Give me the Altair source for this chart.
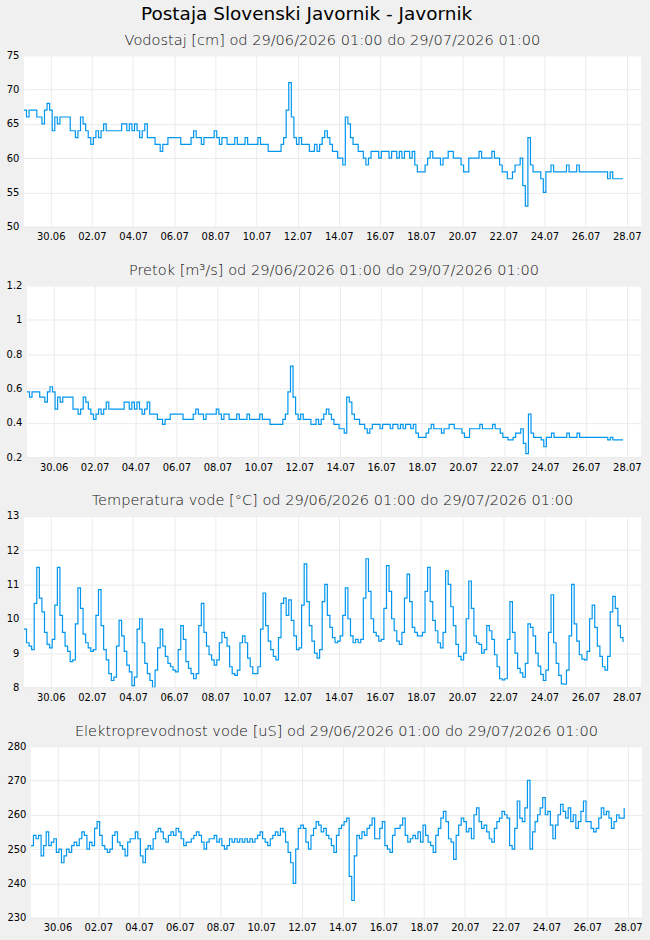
import altair as alt
import pandas as pd

# ---------------- data (3-hourly samples) ----------------
N = 234
times = pd.date_range("2026-06-28 16:40", periods=N, freq="3h").strftime("%Y-%m-%dT%H:%M:%SZ").tolist()

vodostaj = [
    67, 66, 67, 67, 67, 66, 66, 65,
    67, 68, 67, 64, 66, 65, 66, 66,
    66, 66, 64, 64, 63, 64, 66, 65,
    64, 63, 62, 63, 64, 63, 64, 65,
    64, 64, 64, 64, 64, 64, 65, 65,
    64, 65, 64, 65, 64, 63, 64, 65,
    63, 63, 63, 62, 62, 61, 62, 62,
    63, 63, 63, 63, 63, 62, 62, 62,
    62, 63, 64, 63, 63, 62, 63, 63,
    63, 63, 64, 63, 62, 63, 63, 62,
    62, 62, 63, 62, 62, 62, 63, 62,
    62, 62, 62, 63, 62, 62, 62, 61,
    61, 61, 61, 61, 62, 63, 67, 71,
    66, 63, 62, 63, 62, 62, 62, 61,
    61, 62, 61, 62, 63, 64, 63, 62,
    61, 61, 60, 60, 59, 66, 65, 63,
    62, 62, 61, 61, 60, 59, 60, 61,
    61, 61, 60, 61, 61, 61, 60, 61,
    61, 60, 61, 60, 61, 61, 60, 61,
    59, 58, 58, 58, 59, 60, 61, 60,
    60, 60, 59, 60, 60, 61, 61, 60,
    60, 60, 59, 58, 58, 60, 60, 60,
    60, 61, 60, 60, 60, 60, 61, 60,
    60, 59, 58, 58, 57, 57, 58, 59,
    59, 60, 56, 53, 63, 59, 58, 58,
    58, 57, 55, 58, 58, 59, 58, 58,
    58, 58, 58, 59, 58, 58, 58, 59,
    58, 58, 58, 58, 58, 58, 58, 58,
    58, 58, 58, 57, 58, 57, 57, 57,
    57, 57,
]

pretok = [
    0.58, 0.55, 0.58, 0.58, 0.58, 0.55, 0.55, 0.52,
    0.58, 0.61, 0.58, 0.48, 0.55, 0.52, 0.55, 0.55,
    0.55, 0.55, 0.48, 0.48, 0.45, 0.48, 0.55, 0.52,
    0.48, 0.45, 0.42, 0.45, 0.48, 0.45, 0.48, 0.52,
    0.48, 0.48, 0.48, 0.48, 0.48, 0.48, 0.52, 0.52,
    0.48, 0.52, 0.48, 0.52, 0.48, 0.45, 0.48, 0.52,
    0.45, 0.45, 0.45, 0.42, 0.42, 0.39, 0.42, 0.42,
    0.45, 0.45, 0.45, 0.45, 0.45, 0.42, 0.42, 0.42,
    0.42, 0.45, 0.48, 0.45, 0.45, 0.42, 0.45, 0.45,
    0.45, 0.45, 0.48, 0.45, 0.42, 0.45, 0.45, 0.42,
    0.42, 0.42, 0.45, 0.42, 0.42, 0.42, 0.45, 0.42,
    0.42, 0.42, 0.42, 0.45, 0.42, 0.42, 0.42, 0.39,
    0.39, 0.39, 0.39, 0.39, 0.42, 0.45, 0.58, 0.73,
    0.55, 0.45, 0.42, 0.45, 0.42, 0.42, 0.42, 0.39,
    0.39, 0.42, 0.39, 0.42, 0.45, 0.48, 0.45, 0.42,
    0.39, 0.39, 0.365, 0.365, 0.34, 0.55, 0.52, 0.45,
    0.42, 0.42, 0.39, 0.39, 0.365, 0.34, 0.365, 0.39,
    0.39, 0.39, 0.365, 0.39, 0.39, 0.39, 0.365, 0.39,
    0.39, 0.365, 0.39, 0.365, 0.39, 0.39, 0.365, 0.39,
    0.34, 0.315, 0.315, 0.315, 0.34, 0.365, 0.39, 0.365,
    0.365, 0.365, 0.34, 0.365, 0.365, 0.39, 0.39, 0.365,
    0.365, 0.365, 0.34, 0.315, 0.315, 0.365, 0.365, 0.365,
    0.365, 0.39, 0.365, 0.365, 0.365, 0.365, 0.39, 0.365,
    0.365, 0.34, 0.315, 0.315, 0.30, 0.30, 0.315, 0.34,
    0.34, 0.365, 0.28, 0.22, 0.45, 0.34, 0.315, 0.315,
    0.315, 0.30, 0.26, 0.315, 0.315, 0.34, 0.315, 0.315,
    0.315, 0.315, 0.315, 0.34, 0.315, 0.315, 0.315, 0.34,
    0.315, 0.315, 0.315, 0.315, 0.315, 0.315, 0.315, 0.315,
    0.315, 0.315, 0.315, 0.30, 0.315, 0.30, 0.30, 0.30,
    0.30, 0.30,
]

temperatura = [
    9.7, 9.3, 9.2, 9.1, 10.45, 11.5, 10.6, 10.2,
    9.6, 9.25, 9.15, 9.4, 10.4, 11.5, 10.1, 9.6,
    9.2, 9.05, 8.75, 8.8, 9.85, 10.9, 10.3, 9.55,
    9.3, 9.15, 9.05, 9.1, 10.1, 10.85, 9.8, 9.1,
    8.8, 8.4, 8.2, 8.3, 9.2, 9.95, 9.5, 9.05,
    8.65, 8.45, 8.05, 8.3, 9.7, 10.0, 9.3, 8.7,
    8.4, 8.2, 8.0, 8.5, 9.15, 9.7, 9.2, 8.9,
    8.7, 8.6, 8.5, 8.45, 9.1, 9.8, 9.4, 8.75,
    8.55, 8.4, 8.25, 8.4, 9.8, 10.45, 9.6, 9.2,
    8.95, 8.8, 8.65, 8.8, 9.3, 9.6, 9.45, 9.2,
    8.6, 8.4, 8.35, 8.5, 9.3, 9.5, 9.3, 8.85,
    8.6, 8.4, 8.4, 8.6, 9.7, 10.75, 9.8, 9.35,
    9.1, 8.9, 8.8, 9.45, 10.45, 10.6, 10.1, 10.55,
    9.95, 9.5, 9.1, 9.15, 10.4, 11.6, 10.5, 9.8,
    9.35, 9.0, 8.85, 9.1, 10.5, 11.0, 10.1, 9.75,
    9.45, 9.3, 9.35, 9.5, 10.1, 10.9, 10.0, 9.5,
    9.3, 9.4, 9.3, 9.4, 10.6, 11.75, 10.8, 10.0,
    9.6, 9.5, 9.35, 9.4, 10.3, 11.55, 10.8, 10.0,
    9.65, 9.35, 9.25, 9.6, 10.6, 11.3, 10.5, 9.75,
    9.6, 9.5, 9.5, 9.6, 10.8, 11.5, 10.5, 9.95,
    9.65, 9.3, 9.15, 9.6, 11.4, 11.0, 10.35, 9.8,
    9.25, 8.9, 8.8, 9.0, 10.0, 11.1, 10.3, 9.5,
    9.3, 9.25, 9.0, 9.1, 9.8, 9.65, 9.4, 8.95,
    8.6, 8.25, 8.22, 8.25, 9.4, 10.5, 9.6, 9.0,
    8.55, 8.42, 8.3, 8.7, 9.85, 9.75, 9.5, 9.0,
    8.62, 8.38, 8.2, 8.5, 9.6, 10.7, 9.3, 8.7,
    8.35, 8.1, 8.09, 8.5, 9.5, 11.0, 9.85, 9.35,
    8.95, 8.82, 8.8, 9.05, 10.0, 10.4, 9.75, 9.2,
    8.9, 8.6, 8.5, 8.9, 10.2, 10.65, 10.3, 9.8,
    9.45, 9.32,
]

prevodnost = [
    251, 254, 253, 254, 248, 251, 255, 251,
    252, 253, 249, 250, 246, 248, 250, 249,
    251, 252, 251, 253, 255, 254, 250, 252,
    251, 256, 258, 254, 251, 250, 249, 250,
    254, 255, 252, 251, 250, 248, 252, 253,
    253, 255, 253, 248, 246, 250, 251, 250,
    253, 255, 256, 255, 253, 252, 254, 255,
    254, 256, 255, 253, 251, 252, 252, 253,
    254, 255, 254, 252, 250, 252, 253, 253,
    254, 252, 253, 251, 250, 251, 253, 252,
    253, 252, 253, 252, 253, 252, 253, 252,
    253, 254, 255, 253, 252, 251, 253, 254,
    255, 254, 256, 255, 252, 249, 246, 240,
    250, 256, 257, 256, 252, 250, 254, 256,
    258, 257, 255, 256, 254, 253, 251, 249,
    254, 256, 257, 258, 259, 242, 235, 248,
    254, 253, 255, 254, 256, 257, 259, 253,
    253, 256, 258, 251, 250, 249, 254, 256,
    256, 257, 259, 254, 252, 253, 254, 253,
    255, 252, 257, 254, 252, 251, 249, 254,
    256, 259, 261, 258, 253, 252, 247, 254,
    257, 259, 258, 255, 256, 253, 260, 262,
    258, 256, 257, 255, 253, 252, 256, 258,
    259, 261, 260, 259, 251, 250, 256, 264,
    259, 258, 262, 270, 250, 255, 258, 260,
    262, 265, 260, 261, 257, 253, 257, 260,
    263, 261, 259, 262, 258, 260, 256, 258,
    261, 264, 258, 258, 256, 255, 256, 259,
    262, 260, 261, 259, 256, 258, 260, 259,
    259, 262,
]

tick_dates = [(6, 30), (7, 2), (7, 4), (7, 6), (7, 8), (7, 10), (7, 12), (7, 14),
              (7, 16), (7, 18), (7, 20), (7, 22), (7, 24), (7, 26), (7, 28)]

titles = [
    "Vodostaj [cm] od 29/06/2026 01:00 do 29/07/2026 01:00",
    "Pretok [m\u00b3/s] od 29/06/2026 01:00 do 29/07/2026 01:00",
    "Temperatura vode [\u00b0C] od 29/06/2026 01:00 do 29/07/2026 01:00",
    "Elektroprevodnost vode [uS] od 29/06/2026 01:00 do 29/07/2026 01:00",
]
y_ticks = [
    [50, 55, 60, 65, 70, 75],
    [0.2, 0.4, 0.6, 0.8, 1.0, 1.2],
    [8, 9, 10, 11, 12, 13],
    [230, 240, 250, 260, 270, 280],
]
y_formats = ["d", "~g", "d", "d"]
series = [vodostaj, pretok, temperatura, prevodnost]
widths = [619, 616, 619, 613]

for s in series:
    assert len(s) == N, len(s)

# ---------------- chart ----------------
LINE = "#0096f0"
FONT = "DejaVu Sans"

xscale = alt.Scale(
    type="utc",
    domain=[alt.DateTime(year=2026, month=6, date=28, hours=16, minutes=40, utc=True),
            alt.DateTime(year=2026, month=7, date=28, hours=16, minutes=40, utc=True)],
    nice=False,
)
xticks = [alt.DateTime(year=2026, month=m, date=d, utc=True) for m, d in tick_dates]


def panel(values, title, yt, fmt, width):
    df = pd.DataFrame({"t": times, "v": values})
    return alt.Chart(df).mark_line(
        interpolate="step-after", color=LINE, strokeWidth=1.2, clip=True
    ).encode(
        x=alt.X("t:T", scale=xscale,
                axis=alt.Axis(values=xticks, format="%d.%m", title=None, labelFlush=False)),
        y=alt.Y("v:Q", scale=alt.Scale(domain=[yt[0], yt[-1]], nice=False, zero=False),
                axis=alt.Axis(values=yt, format=fmt, title=None)),
    ).properties(
        width=width, height=172,
        view=alt.ViewBackground(fill="white", strokeWidth=0),
        title=alt.TitleParams(title, fontSize=14.6, font=FONT, fontWeight=300,
                              color="#111111", offset=3),
    )


def spacer():
    return alt.Chart(pd.DataFrame({"a": [0]})).mark_rule(opacity=0, strokeWidth=0).encode(
        x=alt.value(0), y=alt.value(0), y2=alt.value(1)
    ).properties(width=1, height=1,
                 view=alt.ViewBackground(fill="transparent", strokeWidth=0))


rows = [alt.hconcat(spacer(), panel(s, t, yt, f, w), spacing=0)
        for s, t, yt, f, w in zip(series, titles, y_ticks, y_formats, widths)]

chart = alt.vconcat(*rows, spacing=21).properties(
    title=alt.TitleParams("Postaja Slovenski Javornik - Javornik", fontSize=18.5, font=FONT,
                          fontWeight="normal", color="#000000", anchor="middle", dx=-17, offset=9),
    background="#f0f0f0",
    padding={"left": 5, "right": 7, "top": 3, "bottom": 8},
).configure_view(
    strokeWidth=0
).configure_axis(
    domain=False, ticks=False, grid=True, gridColor="#ebebeb", gridWidth=1,
    labelFont=FONT, labelFontSize=10, labelColor="#000000", labelPadding=5,
)

chart.save("out.html", embed_options={"renderer": "svg", "actions": False})
